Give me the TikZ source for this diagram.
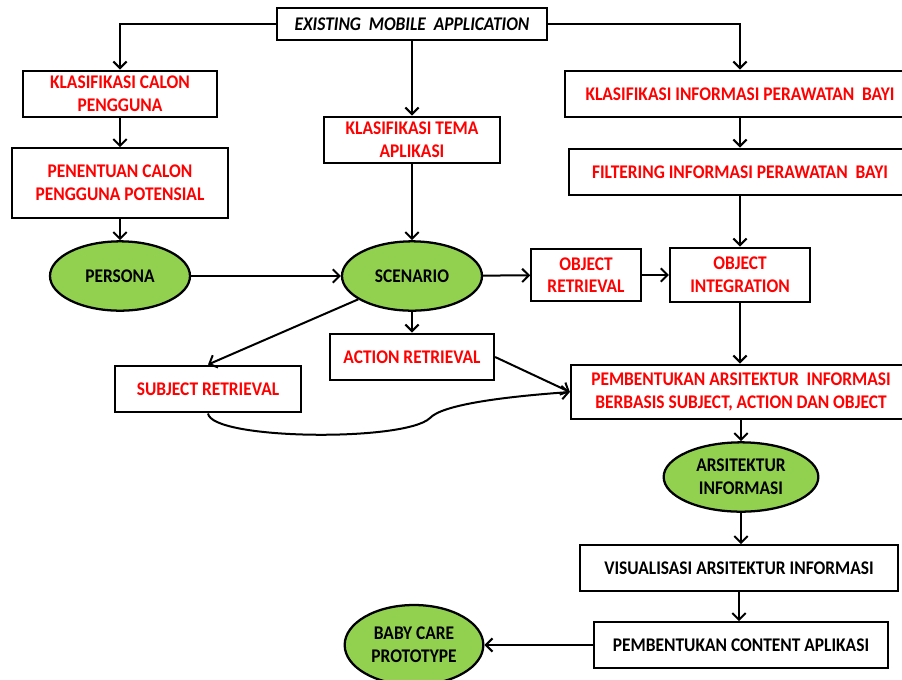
\documentclass[tikz,border=0pt]{standalone}
\usepackage{fontspec}
\setmainfont{Carlito}[FakeStretch=0.9]
\usetikzlibrary{arrows.meta,shapes.geometric}
\definecolor{leafgreen}{HTML}{92D050}

\begin{document}
\begin{tikzpicture}[x=0.75pt,y=-0.75pt,
    box/.style={draw,line width=1.7pt,fill=white,align=center,inner sep=2pt,
        font=\fontsize{14.5}{17}\selectfont\bfseries,text=red},
    plainbox/.style={box,text=black},
    bubble/.style={ellipse,draw,line width=1.7pt,fill=leafgreen,align=center,inner sep=0pt,
        font=\fontsize{14.5}{17}\selectfont\bfseries},
    link/.style={line width=1.5pt,-{Straight Barb[length=5pt,width=10pt,line width=1.5pt]}}]

    \useasboundingbox (0,0) rectangle (902,679);

    \node [plainbox,minimum width=203pt,minimum height=24pt] (exist) at (412,24)
        {\textit{EXISTING\ \ MOBILE\ \ APPLICATION}};

    \node [box,minimum width=145pt,minimum height=35pt] (kcalon) at (120,94) {KLASIFIKASI CALON\\PENGGUNA};
    \node [box,minimum width=162pt,minimum height=52pt] (tentu) at (120,183) {PENENTUAN CALON\\PENGGUNA POTENSIAL};
    \node [bubble,minimum width=105pt,minimum height=52pt] (persona) at (120,276) {PERSONA};

    \node [box,minimum width=132pt,minimum height=35pt] (ktema) at (412,140) {KLASIFIKASI TEMA\\APLIKASI};
    \node [bubble,minimum width=105pt,minimum height=52pt] (scenario) at (412,276) {SCENARIO};
    \node [box,minimum width=123pt,minimum height=35pt] (aretr) at (412,357) {ACTION RETRIEVAL};
    \node [box,minimum width=140pt,minimum height=35pt] (sretr) at (208,389) {SUBJECT RETRIEVAL};

    \node [box,minimum width=262pt,minimum height=35pt] (kinfo) at (740,94) {KLASIFIKASI INFORMASI PERAWATAN\ \ BAYI};
    \node [box,minimum width=257pt,minimum height=35pt] (filter) at (740,172) {FILTERING INFORMASI PERAWATAN\ \ BAYI};
    \node [box,minimum width=82pt,minimum height=39pt] (oretr) at (586,275) {OBJECT\\RETRIEVAL};
    \node [box,minimum width=105pt,minimum height=41pt] (ointeg) at (740,275) {OBJECT\\INTEGRATION};

    \node [box,minimum width=255pt,minimum height=41pt] (pemb) at (741,392)
        {PEMBENTUKAN ARSITEKTUR\ \ INFORMASI\\BERBASIS SUBJECT, ACTION\ DAN OBJECT};
    \node [bubble,minimum width=116pt,minimum height=52pt] (arsi) at (741,477) {ARSITEKTUR\\INFORMASI};
    \node [plainbox,minimum width=238pt,minimum height=34pt] (visual) at (739,568) {VISUALISASI ARSITEKTUR INFORMASI};
    \node [plainbox,minimum width=220pt,minimum height=34pt] (content) at (741,645) {PEMBENTUKAN CONTENT APLIKASI};
    \node [bubble,minimum width=104pt,minimum height=60pt] (baby) at (414,645) {BABY CARE\\PROTOTYPE};

    \draw [link] (exist.west) -| (kcalon.north);
    \draw [link] (exist.east) -| (kinfo.north);
    \draw [link] (exist) -- (ktema);
    \draw [link] (kcalon) -- (tentu);
    \draw [link] (tentu) -- (persona);
    \draw [link] (ktema) -- (scenario);
    \draw [link] (kinfo) -- (filter);
    \draw [link] (filter) -- (ointeg);
    \draw [link] (persona) -- (scenario);
    \draw [link] (scenario) -- (oretr);
    \draw [link] (oretr) -- (ointeg);
    \draw [link] (scenario) -- (aretr);
    \draw [link] (scenario) -- (sretr.north);
    \draw [link] (aretr.east) -- (pemb.west);
    \draw [link] (sretr.south) .. controls (212,440) and (405,442) .. (430,418)
        .. controls (442,405) and (500,397) .. (pemb.west);
    \draw [link] (ointeg.south) -- (ointeg.south |- pemb.north);
    \draw [link] (pemb) -- (arsi);
    \draw [link] (arsi.south) -- (arsi.south |- visual.north);
    \draw [link] (visual.south) -- (visual.south |- content.north);
    \draw [link] (content) -- (baby);

\end{tikzpicture}
\end{document}
